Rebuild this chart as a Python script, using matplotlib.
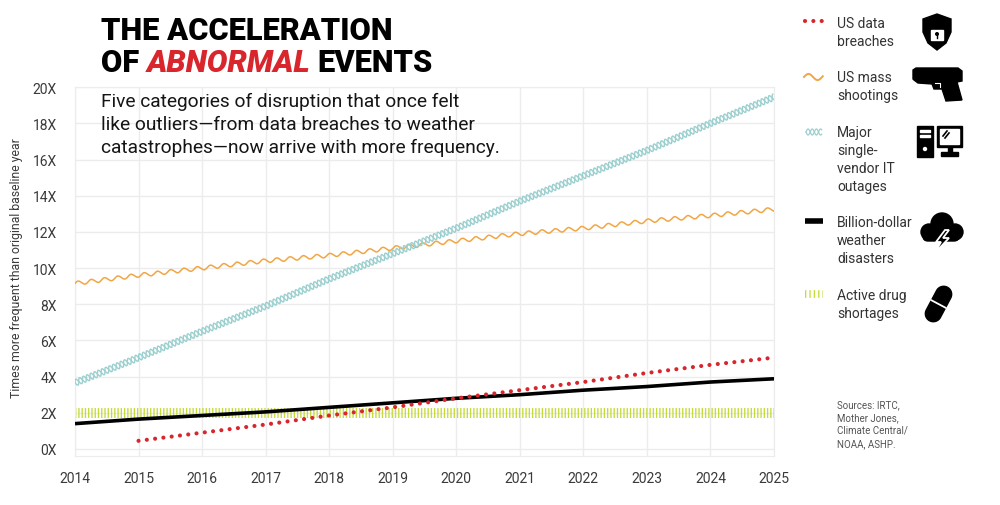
import numpy as np
import matplotlib
matplotlib.use("Agg")
import matplotlib.pyplot as plt
from matplotlib import patches
from matplotlib.path import Path
from matplotlib.transforms import Affine2D
from matplotlib.patheffects import AbstractPathEffect

plt.rcParams['font.family'] = ['Roboto', 'DejaVu Sans']
plt.rcParams['lines.scale_dashes'] = False

# data
years = list(range(2014, 2026))
breach_years = list(range(2015, 2026))
breaches = [0.45, 0.9, 1.35, 1.85, 2.3, 2.8, 3.25, 3.7, 4.2, 4.65, 5.05]
shootings = [9.15, 9.6, 10.0, 10.4, 10.7, 11.1, 11.5, 11.9, 12.2, 12.6, 12.9, 13.25]
outages = [3.65, 5.05, 6.5, 7.9, 9.4, 10.8, 12.2, 13.7, 15.1, 16.5, 18.0, 19.45]
weather = [1.4, 1.65, 1.85, 2.05, 2.3, 2.55, 2.8, 3.0, 3.25, 3.45, 3.7, 3.88]
drugs = [2.0] * 12

RED = '#d8262c'
ORANGE = '#f2a643'
TEAL = '#9ccfcf'
GREEN = '#c6da3c'
GRID = '#ececec'


class Wavy(AbstractPathEffect):
    """redraw a line as a sine wave running along it (style only)"""
    def __init__(self, amp, period, phase=0.0):
        super().__init__()
        self.amp, self.period, self.phase = amp, period, phase

    def draw_path(self, renderer, gc, tpath, affine, rgbFace=None):
        pts = affine.transform(tpath.vertices)
        d = np.concatenate([[0], np.cumsum(np.hypot(*np.diff(pts, axis=0).T))])
        k = renderer.points_to_pixels(1.0)
        s = np.arange(0, d[-1], 0.4)
        x = np.interp(s, d, pts[:, 0])
        y = np.interp(s, d, pts[:, 1])
        dx, dy = np.gradient(x), np.gradient(y)
        n = np.hypot(dx, dy)
        off = self.amp * k * np.sin(2 * np.pi * s / (self.period * k) + self.phase)
        wave = Path(np.column_stack([x - dy / n * off, y + dx / n * off]))
        renderer.draw_path(gc, wave, Affine2D(), rgbFace)


wave_orange = [Wavy(1.4, 9.6)]
wave_teal = [Wavy(2.3, 5.8), Wavy(2.3, 5.8, np.pi)]

fig = plt.figure(figsize=(10, 5.06), dpi=100)
ax = fig.add_axes([0.075, 0.0968, 0.699, 0.729])

ax.plot(years, drugs, color=GREEN, lw=7.2, dashes=(0.95, 1.4), solid_capstyle='butt', dash_capstyle='butt', zorder=2)
ax.plot(years, weather, color='black', lw=2.6, solid_capstyle='butt', zorder=3)
ax.plot(breach_years, breaches, color=RED, lw=3.0, dashes=(0.01, 6.0), dash_capstyle='round', zorder=4)
ax.plot(years, shootings, color=ORANGE, lw=1.1, path_effects=wave_orange, zorder=3)
ax.plot(years, outages, color=TEAL, lw=1.0, path_effects=wave_teal, zorder=3)

ax.set_xlim(2014, 2025)
ax.set_ylim(-0.39, 20)
ax.set_xticks(years)
ax.set_yticks(range(0, 21, 2))
ax.set_yticklabels([f'{v}X' for v in range(0, 21, 2)])
ax.tick_params(length=0, labelsize=10, colors='#3a3a3a')
ax.tick_params(axis='y', pad=13)
ax.tick_params(axis='x', pad=11)
ax.grid(color=GRID, lw=1)
ax.set_axisbelow(True)
for sp in ax.spines.values():
    sp.set_color(GRID)
fig.text(0.017, 0.47, 'Times more frequent than original baseline year', rotation=90,
         fontsize=8.8, color='#3a3a3a', ha='center', va='center')

# overlay in pixel coordinates for titles, legend and icons
ov = fig.add_axes([0, 0, 1, 1])
ov.set_xlim(0, 1000)
ov.set_ylim(506, 0)
ov.axis('off')

renderer = fig.canvas.get_renderer()
ov.text(101, 40, 'THE ACCELERATION', fontsize=22.2, fontweight='black', va='baseline')
x0 = 101
for word, col, style in [('OF', 'black', 'normal'), ('ABNORMAL', RED, 'italic'), ('EVENTS', 'black', 'normal')]:
    t = ov.text(x0, 72, word, fontsize=22.2, fontweight='black', color=col, fontstyle=style, va='baseline')
    x0 += t.get_window_extent(renderer).width + 7

subtitle = ['Five categories of disruption that once felt',
            'like outliers\u2014from data breaches to weather',
            'catastrophes\u2014now arrive with more frequency.']
for i, line in enumerate(subtitle):
    ov.text(101, 107 + 23 * i, line, fontsize=13.8, color='#151515', va='baseline')

# legend
legend = [('US data\nbreaches', 28, 22),
          ('US mass\nshootings', 82, 78),
          ('Major\nsingle-\nvendor IT\noutages', 137, 133),
          ('Billion-dollar\nweather\ndisasters', 227, 222),
          ('Active drug\nshortages', 300, 295)]
for label, base, _ in legend:
    for j, line in enumerate(label.split('\n')):
        ov.text(837, base + 18 * j, line, fontsize=10, color='#333333', va='baseline')

ov.plot([805, 823], [22, 22], color=RED, lw=3.0, dashes=(0.01, 6.0), dash_capstyle='round')
ov.plot([804, 823], [78, 78], color=ORANGE, lw=1.4, path_effects=[Wavy(2.2, 13.0)])
ov.plot([806, 822], [133, 133], color=TEAL, lw=0.9, path_effects=[Wavy(2.2, 6.0), Wavy(2.2, 6.0, np.pi)])
ov.plot([805, 823], [222, 222], color='black', lw=4, solid_capstyle='butt')
ov.plot([805, 823], [295, 295], color=GREEN, lw=5.5, dashes=(0.95, 2.2), dash_capstyle='butt')

# icons
# shield with lock
ov.add_patch(patches.Polygon([(923, 20), (937, 15), (951, 20), (951, 33), (946, 44), (937, 51),
                              (928, 44), (923, 33)], closed=True, color='black'))
ov.add_patch(patches.Rectangle((931, 31), 12, 10, color='white'))
ov.add_patch(patches.Arc((937, 31), 8, 10, theta1=0, theta2=180, color='white', lw=1.8))
ov.add_patch(patches.Circle((937, 35), 1.3, color='black'))
ov.plot([937, 937], [35, 38.5], color='black', lw=1)

# pistol
ov.add_patch(patches.Polygon([(913, 71), (916, 69), (958, 69), (962, 72), (962, 82), (957, 83),
                              (962, 101), (946, 102), (942, 90), (934, 90), (932, 85), (918, 84),
                              (914, 81), (913, 80)], closed=True, color='black'))
ov.plot([935, 940, 940], [84, 84, 88], color='white', lw=0.8)

# computer
ov.add_patch(patches.Rectangle((917, 127), 16, 31, color='black'))
ov.add_patch(patches.Rectangle((920, 131), 10, 2, color='white'))
ov.add_patch(patches.Rectangle((920, 136), 10, 2, color='white'))
ov.add_patch(patches.Circle((925, 150), 1.5, color='white'))
ov.add_patch(patches.Rectangle((937, 127), 25, 21, color='black'))
ov.add_patch(patches.Rectangle((940, 130), 19, 15, color='white'))
ov.plot([943, 947], [137, 132], color='black', lw=1.2)
ov.plot([945, 949], [139, 134], color='black', lw=1.2)
ov.add_patch(patches.Rectangle((947.5, 148), 4, 6, color='black'))
ov.add_patch(patches.Rectangle((941, 153), 17, 3.5, color='black'))

# storm cloud
for cx, cy, r in [(929, 233, 8), (942, 225, 11), (955, 233, 8)]:
    ov.add_patch(patches.Circle((cx, cy), r, color='black'))
ov.add_patch(patches.FancyBboxPatch((923, 230), 36, 12, boxstyle='round,pad=0,rounding_size=5', color='black'))
ov.add_patch(patches.Polygon([(945, 231), (936, 243), (941, 243), (934, 255), (949, 239), (943, 239),
                              (949, 231)], closed=True, facecolor='black', edgecolor='white', lw=1.3))

# pill
pc = np.array([938.5, 305.0])
ang = np.deg2rad(-62)
e = np.array([np.cos(ang), np.sin(ang)])
f = np.array([-np.sin(ang), np.cos(ang)])
L, w = 38, 8
th1 = np.linspace(-np.pi / 2, np.pi / 2, 30)
th2 = th1 + np.pi
pts = [pc + (L / 2 - w) * e + w * (np.cos(t) * e + np.sin(t) * f) for t in th1]
pts += [pc - (L / 2 - w) * e + w * (np.cos(t) * e + np.sin(t) * f) for t in th2]
ov.add_patch(patches.Polygon(pts, closed=True, color='black'))
ov.plot([pc[0] - w * f[0], pc[0] + w * f[0]], [pc[1] - w * f[1], pc[1] + w * f[1]], color='white', lw=1.3)

sources = ['Sources: IRTC,', 'Mother Jones,', 'Climate Central/', 'NOAA, ASHP.']
for i, line in enumerate(sources):
    ov.text(837, 408 + 13 * i, line, fontsize=7, color='#555555', va='baseline')

fig.savefig('out.png', dpi=100)
